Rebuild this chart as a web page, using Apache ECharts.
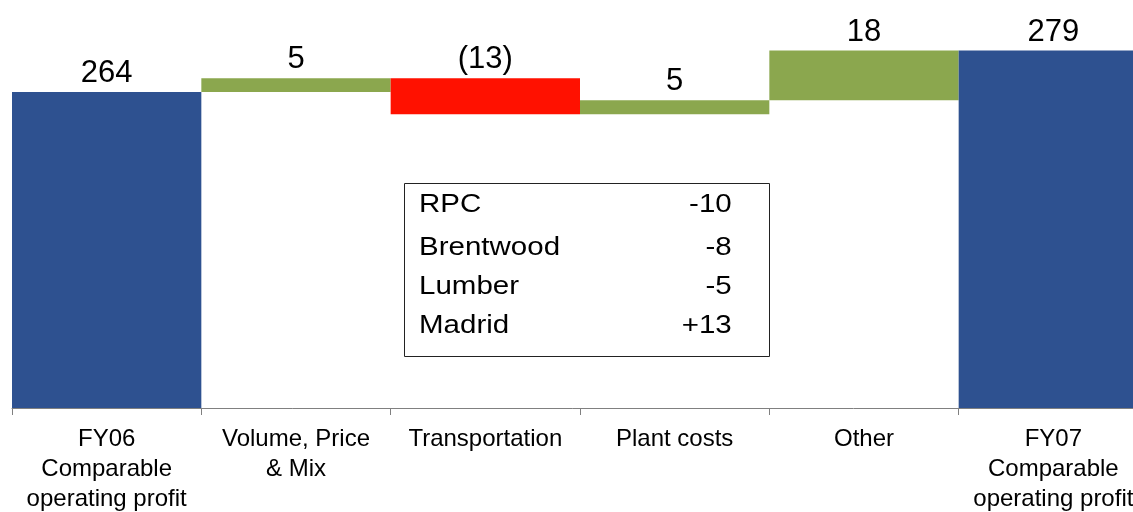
<!DOCTYPE html>
<html>
<head>
<meta charset="utf-8">
<script src="https://cdn.jsdelivr.net/npm/echarts@6/dist/echarts.min.js"></script>
<style>
html,body{margin:0;padding:0;background:#fff;}
#main{width:1133px;height:512px;}
</style>
</head>
<body>
<div id="main"></div>
<script>
// categories and values
var categories = ['FY06\nComparable\noperating profit', 'Volume, Price\n& Mix', 'Transportation', 'Plant costs', 'Other', 'FY07\nComparable\noperating profit'];
var startTotal = 264;
var changes = [5, -13, 5, 18];
var endTotal = 279;

// breakdown box
var boxNames = ['RPC', 'Brentwood', 'Lumber', 'Madrid'];
var boxValues = ['-10', '-8', '-5', '+13'];

var BLUE = '#2e5190', GREEN = '#8ba74e', RED = '#ff1100';

// build waterfall: transparent base + visible part
var baseData = [], barData = [], signed = [];
baseData.push(0);
barData.push({value: startTotal, itemStyle: {color: BLUE}});
signed.push(startTotal);
var run = startTotal;
for (var i = 0; i < changes.length; i++) {
    var c = changes[i];
    if (c >= 0) {
        baseData.push(run);
        barData.push({value: c, itemStyle: {color: GREEN}});
    } else {
        baseData.push(run + c);
        barData.push({value: -c, itemStyle: {color: RED}});
    }
    signed.push(c);
    run += c;
}
baseData.push(0);
barData.push({value: endTotal, itemStyle: {color: BLUE}});
signed.push(endTotal);

var myChart = echarts.init(document.getElementById('main'));

var rowY = [205, 248, 287.5, 326.5];
var boxChildren = [];
for (var k = 0; k < boxNames.length; k++) {
    boxChildren.push({
        type: 'text', x: 0, y: rowY[k], z: 101,
        style: {text: boxNames[k], fontSize: 25, fontFamily: '"Liberation Sans", Arial, sans-serif', fill: '#000', align: 'left', verticalAlign: 'middle'}
    });
    boxChildren.push({
        type: 'text', x: 265, y: rowY[k], z: 101,
        style: {text: boxValues[k], fontSize: 25, fontFamily: '"Liberation Sans", Arial, sans-serif', fill: '#000', align: 'right', verticalAlign: 'middle'}
    });
}

var option = {
    animation: false,
    backgroundColor: '#fff',
    grid: {left: 12, width: 1136, top: 20, bottom: 104, outerBoundsMode: 'none', containLabel: false},
    xAxis: {
        type: 'category',
        data: categories,
        axisLine: {lineStyle: {color: '#808080', width: 1}},
        axisTick: {show: true, length: 7, lineStyle: {color: '#808080'}},
        axisLabel: {
            color: '#000',
            fontFamily: '"Liberation Sans", Arial, sans-serif',
            fontSize: 24,
            lineHeight: 30,
            margin: 16,
            interval: 0
        }
    },
    yAxis: {
        type: 'value',
        min: 150,
        max: 290,
        startValue: 150,
        show: false,
        splitLine: {show: false}
    },
    series: [
        {
            type: 'bar',
            stack: 'wf',
            data: baseData,
            itemStyle: {color: 'transparent'},
            silent: true,
            barCategoryGap: 0
        },
        {
            type: 'bar',
            stack: 'wf',
            data: barData,
            barCategoryGap: 0,
            label: {
                show: true,
                position: 'top',
                distance: 3,
                color: '#000',
                fontFamily: '"Liberation Sans", Arial, sans-serif',
                fontSize: 31,
                formatter: function (p) {
                    var v = signed[p.dataIndex];
                    return v < 0 ? '(' + (-v) + ')' : String(v);
                }
            }
        }
    ],
    graphic: [
        {
            type: 'rect',
            shape: {x: 404.5, y: 183.5, width: 365, height: 173},
            style: {fill: '#fff', stroke: '#222', lineWidth: 1},
            z: 100
        },
        {
            type: 'group',
            x: 419,
            y: 0,
            scaleX: 1.18,
            z: 101,
            children: boxChildren
        }
    ]
};
myChart.setOption(option);
</script>
</body>
</html>
